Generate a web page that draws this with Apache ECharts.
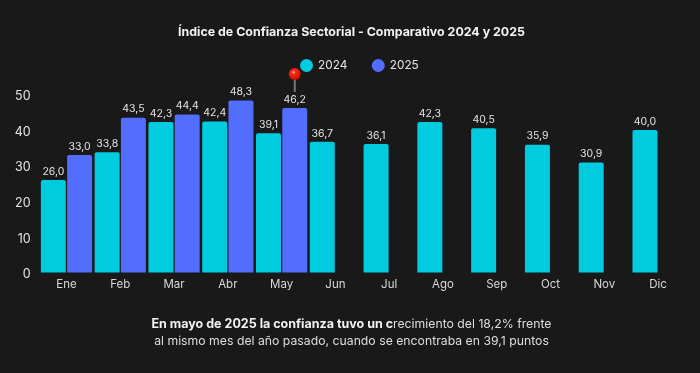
<!DOCTYPE html>
<html><head><meta charset="utf-8">
<style>html,body{margin:0;padding:0;background:#191919}#c{width:700px;height:373px}</style>
<script src="https://cdn.jsdelivr.net/npm/echarts@6/dist/echarts.min.js"></script>
</head><body><div id="c"></div>
<script>
const months = ['Ene','Feb','Mar','Abr','May','Jun','Jul','Ago','Sep','Oct','Nov','Dic'];
const values2024 = [26.0,33.8,42.3,42.4,39.1,36.7,36.1,42.3,40.5,35.9,30.9,40.0];
const values2025 = [33.0,43.5,44.4,48.3,46.2,null,null,null,null,null,null,null];
const yTicks = [0,10,20,30,40,50];
const titleText = 'Índice de Confianza Sectorial - Comparativo 2024 y 2025';
const noteBold = 'En mayo de 2025 la confianza tuvo un c';
const noteLine1 = 'recimiento del 18,2% frente';
const noteLine2 = 'al mismo mes del año pasado, cuando se encontraba en 39,1 puntos';
const FONT = 'Inter, "Noto Sans", sans-serif';
const fmt = p => p.value == null ? '' : p.value.toFixed(1).replace('.', ',');
const label = {show:true, position:'top', distance:3, color:'#e4e4e4', fontFamily:FONT, fontSize:10.5, formatter:fmt};
const chart = echarts.init(document.getElementById('c'), null, {renderer:'canvas'});
chart.setOption({
  backgroundColor:'#191919',
  animation:false,
  title:[
    {text:titleText, left:346.5, top:21, textAlign:'center', textStyle:{color:'#f2f2f2', fontFamily:FONT, fontSize:12.4, fontWeight:700}},
    {text:'{b|'+noteBold+'}{n|'+noteLine1+'}\n{n|'+noteLine2+'}', left:346.5, top:311, textAlign:'center',
     textStyle:{rich:{
       b:{color:'#f2f2f2', fontFamily:FONT, fontSize:12.5, fontWeight:700, lineHeight:17},
       n:{color:'#dedede', fontFamily:FONT, fontSize:12.25, fontWeight:400, lineHeight:17}}}}
  ],
  legend:{top:54, left:295, itemGap:24.5, itemWidth:13, itemHeight:13, icon:'circle',
    textStyle:{color:'#e4e4e4', fontFamily:FONT, fontSize:11.8, padding:[0,0,0,0]}, data:['2024','2025']},
  grid:{left:39.6, right:15, top:94.5, bottom:100.5},
  xAxis:{type:'category', data:months, axisTick:{show:false}, axisLine:{show:false},
    axisLabel:{color:'#d8d8d8', fontFamily:FONT, fontSize:11.5, margin:6}},
  yAxis:{type:'value', min:yTicks[0], max:yTicks[yTicks.length-1], interval:10, splitLine:{show:false},
    axisLine:{show:false}, axisTick:{show:false},
    axisLabel:{margin:9, formatter:'{v|{value}}',
      rich:{v:{color:'#e4e4e4', fontFamily:FONT, fontSize:12.5, padding:[4,0,0,0]}}}},
  series:[
    {name:'2024', type:'bar', data:values2024, barWidth:25, barGap:'5%',
     itemStyle:{color:'#00CBDF', borderRadius:[2,2,0,0]}, label},
    {name:'2025', type:'bar', data:values2025, barWidth:25,
     itemStyle:{color:'#536DFE', borderRadius:[2,2,0,0]}, label,
     markPoint:{silent:true, label:{show:false}, animation:false, data:[
       {coord:['May',46.2], symbol:'rect', symbolSize:[2,13], symbolOffset:[0,-22.5], itemStyle:{color:'#777'}},
       {coord:['May',46.2], symbol:'circle', symbolSize:12, symbolOffset:[0,-34],
        itemStyle:{color:{type:'radial',x:0.4,y:0.35,r:0.65,colorStops:[{offset:0,color:'#ffd0c8'},{offset:0.25,color:'#ff2a12'},{offset:1,color:'#c80f00'}]}}}
     ]}}
  ]
});
</script></body></html>
